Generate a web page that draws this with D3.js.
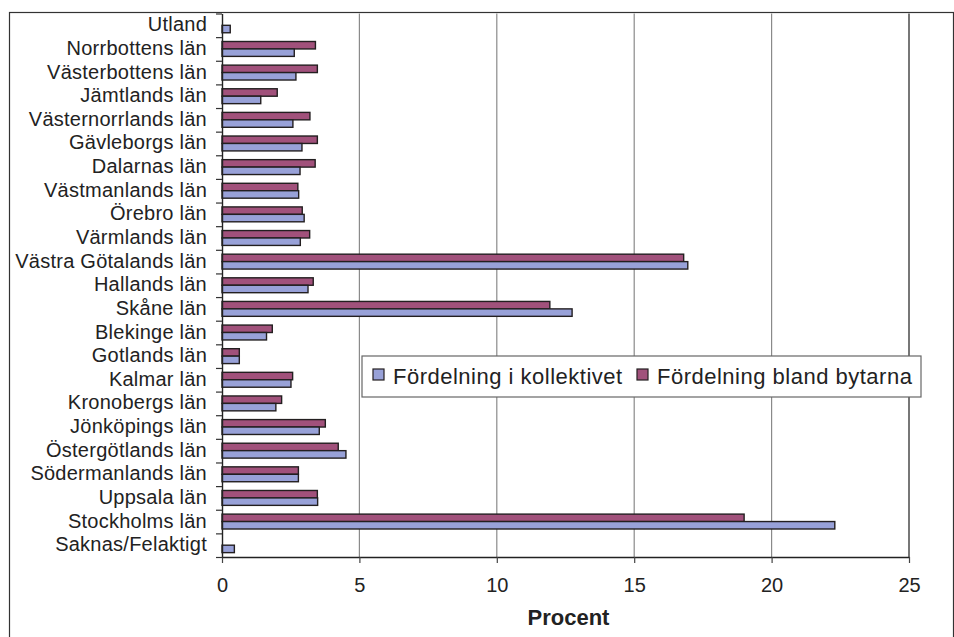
<!DOCTYPE html>
<html>
<head>
<meta charset="utf-8">
<script src="https://cdn.jsdelivr.net/npm/d3@7"></script>
<style>
  body { margin: 0; background: #fff; }
  svg { display: block; font-family: "Liberation Sans", Arial, sans-serif; }
</style>
</head>
<body>
<svg id="chart" width="954" height="637"></svg>
<script>
// categories, top to bottom
const categories = [
  "Utland", "Norrbottens län", "Västerbottens län", "Jämtlands län",
  "Västernorrlands län", "Gävleborgs län", "Dalarnas län", "Västmanlands län",
  "Örebro län", "Värmlands län", "Västra Götalands län", "Hallands län",
  "Skåne län", "Blekinge län", "Gotlands län", "Kalmar län",
  "Kronobergs län", "Jönköpings län", "Östergötlands län", "Södermanlands län",
  "Uppsala län", "Stockholms län", "Saknas/Felaktigt"
]

// Fördelning i kollektivet (procent)
const kollektivet = [
  0.3, 2.63, 2.69, 1.41, 2.58, 2.91, 2.84, 2.79, 2.99, 2.85, 16.95, 3.13,
  12.74, 1.62, 0.63, 2.51, 1.96, 3.54, 4.51, 2.78, 3.48, 22.3, 0.45
]

// Fördelning bland bytarna (procent)
const bytarna = [
  0, 3.4, 3.47, 2.01, 3.2, 3.47, 3.39, 2.76, 2.92, 3.19, 16.8, 3.32,
  11.93, 1.83, 0.63, 2.57, 2.17, 3.76, 4.23, 2.78, 3.47, 19.0, 0
]

const xTicks = [0, 5, 10, 15, 20, 25]
const seriesNames = ["Fördelning i kollektivet", "Fördelning bland bytarna"]
const seriesColors = ["#98a1d8", "#a1517b"]

const layout = {left: 222, right: 909, top: 13.5, bottom: 557}

const svg = d3.select("#chart")

// outer chart frame
svg.append("rect")
   .attr("x", 9.5).attr("y", 12.5)
   .attr("width", 944).attr("height", 640)
   .attr("fill", "none")
   .attr("stroke", "#333")
   .attr("stroke-width", 1.2)

const xScale = d3.scaleLinear()
                 .domain([0, 25])
                 .range([layout.left, layout.right])

const yScale = d3.scaleBand()
                 .domain(categories)
                 .range([layout.top, layout.bottom])

// red on top, blue below inside each band
const inner = d3.scaleBand()
                .domain(["bytarna", "kollektivet"])
                .range([yScale.bandwidth() * 0.185, yScale.bandwidth() * 0.815])

// gridlines
svg.append("g")
   .selectAll("line")
   .data(xTicks.slice(1))
   .join("line")
   .attr("x1", d => xScale(d)).attr("x2", d => xScale(d))
   .attr("y1", layout.top).attr("y2", layout.bottom)
   .attr("stroke", d => d === 25 ? "#555" : "#8a8a8a")
   .attr("stroke-width", d => d === 25 ? 1.6 : 1.2)

const rows = categories.map((c, i) => ({cat: c, kollektivet: kollektivet[i], bytarna: bytarna[i]}))

const groups = svg.append("g")
   .selectAll("g")
   .data(rows)
   .join("g")
   .attr("transform", d => `translate(0,${yScale(d.cat)})`)

groups.selectAll("rect")
   .data(d => [
     {key: "bytarna", v: d.bytarna, color: seriesColors[1]},
     {key: "kollektivet", v: d.kollektivet, color: seriesColors[0]}
   ].filter(e => e.v > 0))
   .join("rect")
   .attr("x", xScale(0))
   .attr("y", d => inner(d.key))
   .attr("width", d => xScale(d.v) - xScale(0))
   .attr("height", inner.bandwidth())
   .attr("fill", d => d.color)
   .attr("stroke", "#231f20")
   .attr("stroke-width", 1.4)

// x axis
const xAxis = svg.append("g")
   .attr("transform", `translate(0,${layout.bottom})`)
   .call(d3.axisBottom(xScale).tickValues(xTicks).tickSize(6).tickSizeOuter(0))
xAxis.select(".domain").attr("stroke", "#222").attr("stroke-width", 1.4)
xAxis.selectAll(".tick line").attr("stroke", "#444").attr("stroke-width", 1.2)
xAxis.selectAll(".tick text")
     .attr("y", 21)
     .attr("font-size", 20)
     .attr("fill", "#222")
     .attr("font-family", "Liberation Sans, Arial, sans-serif")

// y axis: ticks between categories
const tickScale = d3.scaleLinear()
                    .domain([0, categories.length])
                    .range([layout.top, layout.bottom])
const yAxis = svg.append("g")
   .attr("transform", `translate(${layout.left},0)`)
   .call(d3.axisLeft(tickScale).ticks(categories.length).tickSize(6).tickSizeOuter(0).tickFormat(""))
yAxis.select(".domain").attr("stroke", "#222").attr("stroke-width", 1.4)
yAxis.selectAll(".tick line").attr("stroke", "#333").attr("stroke-width", 1.2)

svg.append("g")
   .selectAll("text")
   .data(categories)
   .join("text")
   .attr("x", 207)
   .attr("y", d => yScale(d) + yScale.bandwidth() / 2 - 1)
   .attr("dy", "0.35em")
   .attr("text-anchor", "end")
   .attr("font-size", 20)
   .attr("letter-spacing", 0.25)
   .attr("fill", "#222")
   .text(d => d)

svg.append("text")
   .attr("x", (layout.left + layout.right) / 2 + 3)
   .attr("y", 625)
   .attr("text-anchor", "middle")
   .attr("font-size", 22)
   .attr("font-weight", "bold")
   .attr("fill", "#222")
   .text("Procent")

// legend
const legend = svg.append("g").attr("transform", "translate(362,356)")
legend.append("rect")
      .attr("width", 559).attr("height", 41)
      .attr("fill", "#fff")
      .attr("stroke", "#666")
      .attr("stroke-width", 1.2)

const legendX = [11, 275]
const items = legend.selectAll("g.item")
      .data(seriesNames)
      .join("g")
      .attr("class", "item")
      .attr("transform", (d, i) => `translate(${legendX[i]},0)`)
items.append("rect")
     .attr("y", 13).attr("width", 11).attr("height", 11)
     .attr("fill", (d, i) => seriesColors[i])
     .attr("stroke", "#231f20").attr("stroke-width", 1.2)
items.append("text")
     .attr("x", 20).attr("y", 28)
     .attr("font-size", 22)
     .attr("letter-spacing", 0.5)
     .attr("fill", "#222")
     .text(d => d)
</script>
</body>
</html>
